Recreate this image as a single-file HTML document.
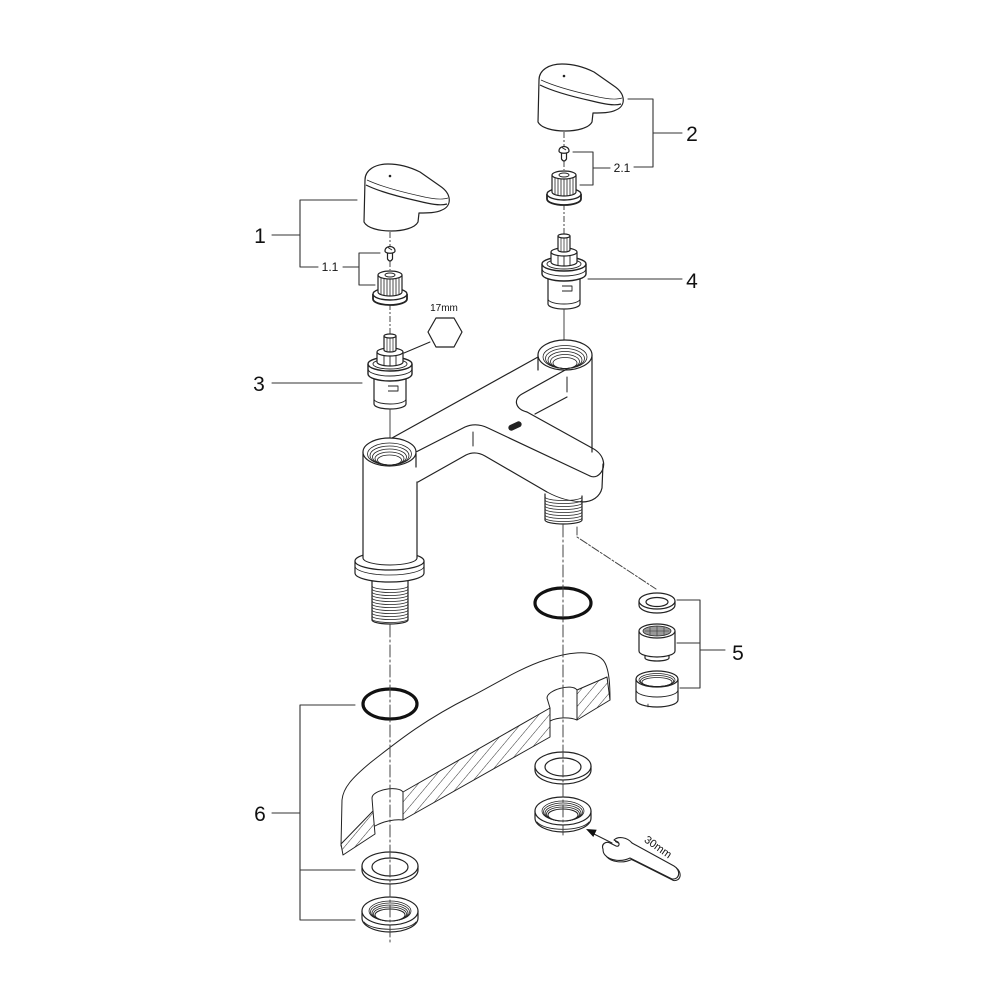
<!DOCTYPE html>
<html>
<head>
<meta charset="utf-8">
<style>
html,body{margin:0;padding:0;background:#fff;}
svg{display:block;}
text{font-family:"Liberation Sans",Arial,sans-serif;fill:#111;}
</style>
</head>
<body>
<svg width="1000" height="1000" viewBox="0 0 1000 1000" xmlns="http://www.w3.org/2000/svg">
<defs>
<pattern id="h" width="8" height="8" patternUnits="userSpaceOnUse" patternTransform="rotate(40)">
<rect width="8" height="8" fill="#fff"/>
<line x1="0" y1="0" x2="0" y2="8" stroke="#333" stroke-width="1"/>
</pattern>
<g id="top" stroke="#222" stroke-width="1.2" fill="none" stroke-linejoin="round">
 <!-- axis segments -->
 <g stroke="#444" stroke-width="1" stroke-dasharray="6 2 2 2">
  <path d="M0,232 L0,246 M0,261 L0,270 M0,304 L0,334"/>
 </g>
 <!-- handle -->
 <path d="M-25,180 C-25,170 -15,164 -2,164 C10,164 20,167 30,172 L50,186 C62,194 62,206 52,210 C46,213 38,213 29,213 L28,222 C22,234 -20,234 -26,222 Z" fill="#fff"/>
 <path d="M-24,185 C-10,192 10,197 28,201 C40,204 50,206 57,204"/>
 <path d="M-23,180 C-8,187 12,192 30,196 C42,199 52,200 58,198" stroke-width="0.7"/>
 <circle cx="0" cy="176" r="1.3" fill="#222" stroke="none"/>
 <!-- screw -->
 <path d="M-2.5,253 L-2.5,259 Q0,263 2.5,259 L2.5,253" fill="#fff"/>
 <path d="M-5,251 C-5,245 5,245 5,251 C5,254 -5,254 -5,251 Z" fill="#fff"/>
 <path d="M-2,247.5 L2,250" stroke-width="1"/>
 <!-- adapter -->
 <path d="M-17,294 L-17,299 A17,6 0 0 0 17,299 L17,294" fill="#fff" stroke-width="1.8"/>
 <ellipse cx="0" cy="294" rx="17" ry="6" fill="#fff" stroke-width="1.4"/>
 <path d="M-12,275 L-12,292 A12,4 0 0 0 12,292 L12,275" fill="#fff"/>
 <ellipse cx="0" cy="275" rx="12" ry="4" fill="#fff"/>
 <ellipse cx="0" cy="275" rx="5" ry="2" fill="#fff" stroke-width="0.9"/>
 <path d="M-9,278 L-9,294 M-6,279 L-6,295 M-3,279 L-3,296 M0,279 L0,296 M3,279 L3,296 M6,279 L6,295 M9,278 L9,294" stroke-width="0.8"/>
 <!-- cartridge body -->
 <path d="M-16,376 L-16,404 A16,5 0 0 0 16,404 L16,376 Z" fill="#fff"/>
 <path d="M-16,399 A16,5 0 0 0 16,399" stroke-width="0.9"/>
 <path d="M-2,386 L8,386 L8,391 L-2,391" stroke-width="0.9"/>
 <!-- flange -->
 <path d="M-22,364 L-22,374 A22,7 0 0 0 22,374 L22,364" fill="#fff" stroke-width="1.4"/>
 <path d="M-22,369 A22,7 0 0 0 22,369" stroke-width="0.9"/>
 <ellipse cx="0" cy="364" rx="22" ry="7" fill="#fff" stroke-width="1.4"/>
 <ellipse cx="0" cy="364" rx="17" ry="5" fill="#fff" stroke-width="0.9"/>
 <!-- hex -->
 <path d="M-13,352 L-13,362 A13,4 0 0 0 13,362 L13,352" fill="#fff"/>
 <ellipse cx="0" cy="352" rx="13" ry="4" fill="#fff"/>
 <path d="M-6,355 L-6,365 M6,355 L6,365 M0,356 L0,366" stroke-width="0.9"/>
 <!-- stem -->
 <path d="M-6,336 L-6,350 A6,2 0 0 0 6,350 L6,336" fill="#fff"/>
 <ellipse cx="0" cy="336" rx="6" ry="2" fill="#fff"/>
 <path d="M-3,338 L-3,351 M0,338 L0,352 M3,338 L3,351" stroke-width="0.7"/>
</g>
</defs>

<!-- TOP PARTS -->
<use href="#top" transform="translate(390,0)"/>
<use href="#top" transform="translate(564,-100)"/>

<g stroke="#222" stroke-width="1.2" fill="none" stroke-linejoin="round" stroke-linecap="round">

<!-- hex 17mm -->
<polygon points="428,332 436,318 454,318 462,332 454,347 436,347" fill="#fff"/>
<path d="M430,342 L404,353" stroke-width="1"/>

<!-- axes between cartridge and body -->
<path d="M390,409 L390,440 M564,309 L564,340" stroke="#444" stroke-width="1"/>

<!-- RIGHT THREAD under spout -->
<path d="M545,494 L545,520 A18.5,4 0 0 0 582,520 L582,496" fill="#fff"/>
<path d="M545,497 A18.5,3.5 0 0 0 582,497 M545,500 A18.5,3.5 0 0 0 582,500 M545,503 A18.5,3.5 0 0 0 582,503 M545,506 A18.5,3.5 0 0 0 582,506 M545,509 A18.5,3.5 0 0 0 582,509 M545,512 A18.5,3.5 0 0 0 582,512 M545,515 A18.5,3.5 0 0 0 582,515 M545,518 A18.5,3.5 0 0 0 582,518" stroke-width="0.8"/>

<!-- RIGHT COLUMN -->
<path d="M538,355 L538,370 M592,355 L592,452"/>
<ellipse cx="565" cy="355" rx="27" ry="15" fill="#fff"/>
<g stroke-width="0.8">
<ellipse cx="565" cy="357" rx="22" ry="11.5"/>
<ellipse cx="565" cy="358.5" rx="19.5" ry="10"/>
<ellipse cx="565" cy="360" rx="17" ry="8.5"/>
<ellipse cx="565" cy="361.5" rx="14.5" ry="7"/>
<ellipse cx="565" cy="363" rx="12" ry="5.5"/>
</g>

<!-- BRIDGE / SPOUT -->
<path d="M392,438 L538,357"/>
<path d="M567,369 L522,394 C513,399 515,409 527,412 L592,448 C606,455 607,470 597,476 C595,477 592,477 590,476"/>
<path d="M567,397 L535,414"/>
<path d="M416,452 L465,427 C472,424 480,424 488,428 L590,476"/>
<path d="M603,464 L602,488 C600,497 592,502 582,502"/>
<path d="M418,482 L466,455 C472,452 478,452 485,456 L547,492"/>
<path d="M547,492 C560,499 570,501 582,502" stroke-width="0.9"/>
<rect x="508" y="423" width="14" height="6" rx="3" transform="rotate(-25 515 426)" fill="#222" stroke="none"/>
<path d="M473,432 L473,446 M567,377 L567,392" stroke-width="1"/>

<!-- LEFT THREAD -->
<path d="M372,578 L372,620 A18,4 0 0 0 408,620 L408,578" fill="#fff"/>
<path d="M372,586 A18,3.5 0 0 0 408,586 M372,589 A18,3.5 0 0 0 408,589 M372,592 A18,3.5 0 0 0 408,592 M372,595 A18,3.5 0 0 0 408,595 M372,598 A18,3.5 0 0 0 408,598 M372,601 A18,3.5 0 0 0 408,601 M372,604 A18,3.5 0 0 0 408,604 M372,607 A18,3.5 0 0 0 408,607 M372,610 A18,3.5 0 0 0 408,610 M372,613 A18,3.5 0 0 0 408,613 M372,616 A18,3.5 0 0 0 408,616 M372,619 A18,3.5 0 0 0 408,619" stroke-width="0.8"/>

<!-- LEFT FLANGE -->
<path d="M355,561 L355,573 A34.5,9 0 0 0 424,573 L424,561" fill="#fff"/>
<path d="M355,566 A34.5,9 0 0 0 424,566" stroke-width="0.8"/>
<ellipse cx="389.5" cy="561" rx="34.5" ry="9" fill="#fff"/>

<!-- LEFT COLUMN -->
<rect x="363" y="452" width="54" height="106" fill="#fff" stroke="none"/>
<path d="M363,558 A27,7 0 0 0 417,558" stroke-width="1"/>
<path d="M363,452 L363,558 M416,453 L416,467 M417,482 L417,558"/>
<ellipse cx="389.5" cy="452" rx="26.5" ry="14" fill="#fff"/>
<g stroke-width="0.8">
<ellipse cx="389.5" cy="454" rx="22" ry="11"/>
<ellipse cx="389.5" cy="455.5" rx="19.5" ry="9.5"/>
<ellipse cx="389.5" cy="457" rx="17" ry="8"/>
<ellipse cx="389.5" cy="458.5" rx="14.5" ry="6.5"/>
<ellipse cx="389.5" cy="460" rx="12" ry="5"/>
</g>

<!-- dashed leader to aerator -->
<path d="M577,527 L577,537 L656,589" stroke="#444" stroke-width="1" stroke-dasharray="8 2 2 2"/>

<!-- O-RINGS -->
<ellipse cx="563" cy="603" rx="28" ry="15" stroke="#111" stroke-width="3.2"/>
<ellipse cx="390" cy="704" rx="27" ry="15" stroke="#111" stroke-width="3.2"/>

<!-- SLAB -->
<path d="M341,846 L342,800 C343,788 352,778 370,763 C392,746 420,722 470,697 C492,686 520,668 545,660 C565,653 592,648 603,660 C610,668 610,690 610,700" stroke-width="1"/>
<polygon points="577,690 607,677 610,700 577,720" fill="url(#h)" stroke-width="1"/>
<polygon points="403,792 550,708 550,737 403,820" fill="url(#h)" stroke-width="1"/>
<polygon points="341,844 373,811 375,834 343,855" fill="url(#h)" stroke-width="1"/>
<path d="M550,708 L547,698 C547,690 572,683 577,690" stroke-width="1"/>
<path d="M550,721 C558,717 570,717 577,720" stroke-width="1"/>
<path d="M373,811 L372,798 C372,790 398,785 403,792" stroke-width="1"/>
<path d="M375,826 C384,821 395,819 403,820" stroke-width="1"/>

<!-- WASHERS -->
<path d="M362,866 L362,870 A28,14 0 0 0 418,870 L418,866" fill="#fff"/>
<ellipse cx="390" cy="866" rx="28" ry="14" fill="#fff"/>
<ellipse cx="390" cy="867" rx="18" ry="9" fill="#fff"/>
<path d="M535,766 L535,770 A28,14 0 0 0 591,770 L591,766" fill="#fff"/>
<ellipse cx="563" cy="766" rx="28" ry="14" fill="#fff"/>
<ellipse cx="563" cy="767" rx="18" ry="9" fill="#fff"/>

<!-- NUTS -->
<g>
<path d="M362,911 L362,918 A28,14 0 0 0 418,918 L418,911" fill="#fff"/>
<path d="M364,922 A27,10 0 0 0 416,922" stroke-width="0.9"/>
<ellipse cx="390" cy="911" rx="28" ry="14" fill="#fff"/>
<ellipse cx="390" cy="911" rx="21" ry="10" stroke-width="0.8"/>
<ellipse cx="390" cy="912" rx="19.5" ry="9" stroke-width="0.8"/>
<ellipse cx="390" cy="913" rx="18" ry="8" stroke-width="0.8"/>
<ellipse cx="390" cy="914" rx="16.5" ry="7" stroke-width="0.8"/>
<ellipse cx="390" cy="915" rx="15" ry="6" fill="#fff" stroke-width="1"/>
</g>
<g>
<path d="M535,811 L535,818 A28,14 0 0 0 591,818 L591,811" fill="#fff"/>
<path d="M537,822 A27,10 0 0 0 589,822" stroke-width="0.9"/>
<ellipse cx="563" cy="811" rx="28" ry="14" fill="#fff"/>
<ellipse cx="563" cy="811" rx="21" ry="10" stroke-width="0.8"/>
<ellipse cx="563" cy="812" rx="19.5" ry="9" stroke-width="0.8"/>
<ellipse cx="563" cy="813" rx="18" ry="8" stroke-width="0.8"/>
<ellipse cx="563" cy="814" rx="16.5" ry="7" stroke-width="0.8"/>
<ellipse cx="563" cy="815" rx="15" ry="6" fill="#fff" stroke-width="1"/>
</g>

<!-- AERATOR PARTS (5) -->
<path d="M639,601 L639,605 A18,8 0 0 0 675,605 L675,601" fill="#fff"/>
<ellipse cx="657" cy="601" rx="18" ry="8" fill="#fff"/>
<ellipse cx="657" cy="602" rx="11" ry="4.5" fill="#fff"/>

<path d="M645,653 L645,658 A12,3 0 0 0 669,658 L669,653" fill="#fff"/>
<path d="M639,631 L639,651 A18,6 0 0 0 675,651 L675,631" fill="#fff"/>
<ellipse cx="657" cy="631" rx="18" ry="7" fill="#fff"/>
<ellipse cx="657" cy="631" rx="14" ry="5" fill="#999" stroke-width="0.8"/>
<path d="M645,631 L669,631 M650,627 L650,635 M657,626 L657,636 M664,627 L664,635" stroke="#333" stroke-width="0.6"/>

<path d="M636,679 L636,700 A21,7 0 0 0 678,700 L678,679" fill="#fff"/>
<path d="M636,690 A21,7 0 0 0 678,690" stroke-width="0.9"/>
<ellipse cx="657" cy="679" rx="21" ry="8" fill="#fff"/>
<ellipse cx="657" cy="680" rx="18" ry="6.5" stroke-width="0.8"/>
<ellipse cx="657" cy="681" rx="16.5" ry="5.5" stroke-width="0.8"/>
<ellipse cx="657" cy="682" rx="15" ry="4.5" stroke-width="0.8"/>
<path d="M648,704 L648,707" stroke-width="0.8"/>

<!-- WRENCH -->
<path d="M604.5,850.5 C602.5,845.5 607.5,842.5 611.5,844.5 L617.5,847.5 C620.5,848.5 621.5,845.5 619.5,843.5 L615.5,841.5 C619.5,837.5 628.5,838.5 633.5,844.5 L675.5,867.5 C682.5,871.5 681.5,881.5 673.5,880.5 L631.5,859.5 C623.5,863.5 611.5,862.5 606.5,856.5 Z" fill="#fff" stroke-width="1"/>
<path d="M603,849 C601,844 606,841 610,843 L616,846 C619,847 620,844 618,842 L614,840 C618,836 627,837 632,843 L674,866 C681,870 680,880 672,879 L630,858 C622,862 610,861 605,855 C603,853 603,851 603,849 Z" fill="#fff" stroke-width="1.1"/>
<path d="M612,843 L594,834" stroke-width="1"/>
<polygon points="586,829 596.7,829.7 593.3,837" fill="#111" stroke="none"/>

<!-- LOWER AXES -->
<g stroke="#444" stroke-width="1" stroke-dasharray="12 3 2 3">
<path d="M390,625 L390,945"/>
<path d="M563,525 L563,835"/>
</g>

<!-- LEADER / BRACKET LINES -->
<g stroke="#333" stroke-width="1.1">
<!-- 1 -->
<path d="M272,235 L300,235 M300,200 L300,267 M300,200 L357,200 M300,267 L318,267 M343,267 L359,267 M359,253 L359,285 M359,253 L380,253 M359,285 L375,285"/>
<!-- 2 -->
<path d="M628,99 L653,99 M653,99 L653,167 M634,167 L653,167 M653,133 L682,133 M593,152 L593,185 M573,152 L593,152 M580,185 L593,185 M593,168 L610,168"/>
<!-- 3 -->
<path d="M272,383 L362,383"/>
<!-- 4 -->
<path d="M588,279 L682,279"/>
<!-- 5 -->
<path d="M677,600 L700,600 M677,643 L700,643 M680,688 L700,688 M700,600 L700,688 M700,650 L725,650"/>
<!-- 6 -->
<path d="M272,813 L300,813 M300,705 L300,920 M300,705 L355,705 M300,870 L355,870 M300,920 L355,920"/>
</g>
</g>

<!-- TEXT -->
<text x="260" y="243" font-size="21" text-anchor="middle">1</text>
<text x="330" y="271" font-size="12" text-anchor="middle">1.1</text>
<text x="692" y="141" font-size="21" text-anchor="middle">2</text>
<text x="622" y="172" font-size="12" text-anchor="middle">2.1</text>
<text x="259" y="391" font-size="21" text-anchor="middle">3</text>
<text x="692" y="288" font-size="21" text-anchor="middle">4</text>
<text x="738" y="660" font-size="21" text-anchor="middle">5</text>
<text x="260" y="821" font-size="21" text-anchor="middle">6</text>
<text x="444" y="311" font-size="10" text-anchor="middle">17mm</text>
<text x="0" y="0" font-size="11" text-anchor="middle" transform="translate(656,850) rotate(35)">30mm</text>
</svg>
</body>
</html>
